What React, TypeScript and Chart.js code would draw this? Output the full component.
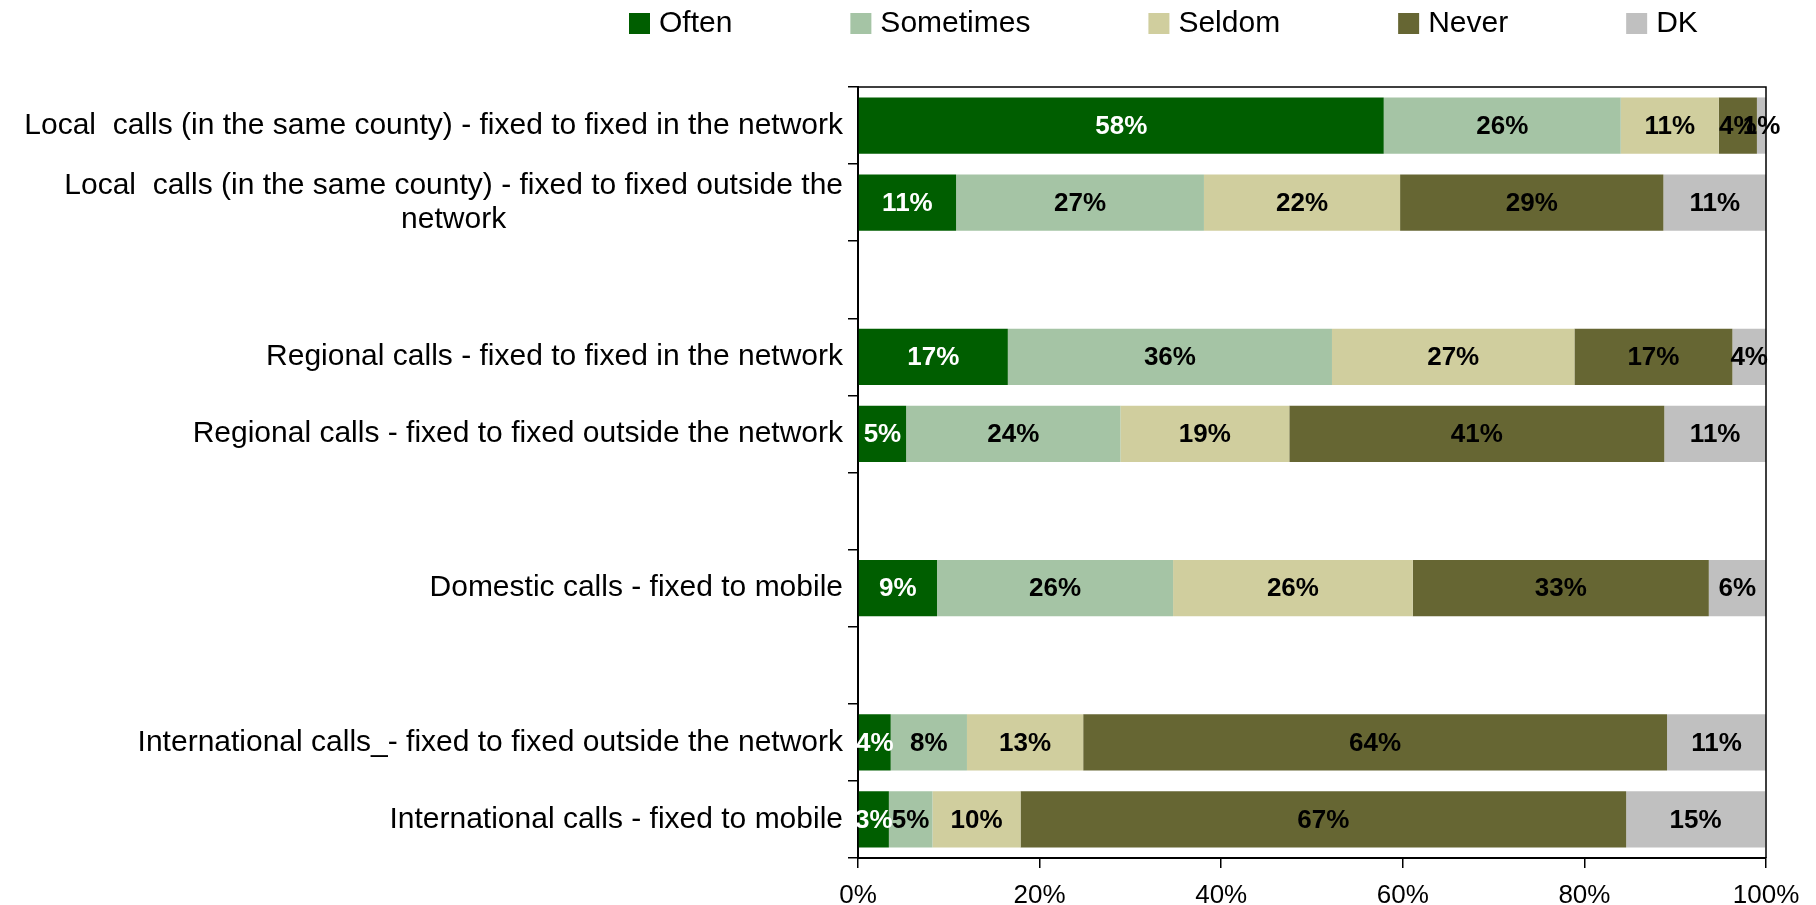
import React, { useEffect, useRef } from "react";
import { Chart, registerables } from "chart.js";

Chart.register(...registerables);

const categories: (string | string[])[] = [
  "Local  calls (in the same county) - fixed to fixed in the network",
  ["Local  calls (in the same county) - fixed to fixed outside the", "network"],
  "",
  "Regional calls - fixed to fixed in the network",
  "Regional calls - fixed to fixed outside the network",
  "",
  "Domestic calls - fixed to mobile",
  "",
  "International calls_- fixed to fixed outside the network",
  "International calls - fixed to mobile",
];

const seriesNames = ["Often", "Sometimes", "Seldom", "Never", "DK"];

const often = [57.9, 10.8, null, 16.5, 5.3, null, 8.7, null, 3.6, 3.4];
const sometimes = [26.1, 27.3, null, 35.7, 23.6, null, 26.0, null, 8.4, 4.8];
const seldom = [10.8, 21.6, null, 26.7, 18.6, null, 26.4, null, 12.8, 9.7];
const never = [4.2, 29.0, null, 17.4, 41.3, null, 32.6, null, 64.3, 66.7];
const dk = [1.0, 11.3, null, 3.7, 11.2, null, 6.3, null, 10.9, 15.3];

const seriesValues = [often, sometimes, seldom, never, dk];

const xTickValues = [0, 20, 40, 60, 80, 100];

const seriesColors = ["#005E00", "#A5C4A5", "#D0CE9E", "#666633", "#C0C0C0"];
const valueLabelColors = ["#FFFFFF", "#000000", "#000000", "#000000", "#000000"];

const FONT = "'Liberation Sans', Arial, Helvetica, sans-serif";

const overlayPlugin = {
  id: "overlay",
  afterDatasetsDraw(chart: any) {
    const ctx = chart.ctx;
    ctx.save();
    ctx.font = `bold 26px ${FONT}`;
    ctx.textAlign = "center";
    ctx.textBaseline = "middle";
    chart.data.datasets.forEach((ds: any, di: number) => {
      const meta = chart.getDatasetMeta(di);
      meta.data.forEach((el: any, i: number) => {
        const v = ds.data[i];
        if (v === null || v === undefined) return;
        const p = el.getProps(["x", "base", "y"], true);
        ctx.fillStyle = valueLabelColors[di];
        ctx.fillText(Math.round(v) + "%", (p.x + p.base) / 2, p.y + 1);
      });
    });
    ctx.restore();
  },
  afterDraw(chart: any) {
    const ctx = chart.ctx;
    const area = chart.chartArea;
    ctx.save();
    // frame around plot area
    ctx.strokeStyle = "#000000";
    ctx.lineWidth = 1.5;
    ctx.beginPath();
    ctx.moveTo(area.left, area.top);
    ctx.lineTo(area.right, area.top);
    ctx.lineTo(area.right, area.bottom);
    ctx.stroke();

    // category labels
    const yScale = chart.scales.y;
    ctx.font = `30px ${FONT}`;
    ctx.fillStyle = "#000000";
    ctx.textBaseline = "middle";
    const rightX = area.left - 15;
    const lh = 34.5;
    categories.forEach((lab, i) => {
      const lines = Array.isArray(lab) ? lab : [lab];
      if (!lines.length || (lines.length === 1 && !lines[0])) return;
      const yc = yScale.getPixelForValue(i);
      if (lines.length === 1) {
        ctx.textAlign = "right";
        ctx.fillText(lines[0], rightX, yc);
      } else {
        const widest = Math.max(...lines.map((l) => ctx.measureText(l).width));
        ctx.textAlign = "center";
        lines.forEach((l, k) => {
          ctx.fillText(l, rightX - widest / 2, yc - ((lines.length - 1) / 2) * lh + k * lh);
        });
      }
    });

    // legend
    ctx.font = `30px ${FONT}`;
    ctx.textAlign = "left";
    ctx.textBaseline = "middle";
    let x = 629;
    seriesNames.forEach((name, i) => {
      ctx.fillStyle = seriesColors[i];
      ctx.fillRect(x, 13, 21, 21);
      ctx.fillStyle = "#000000";
      ctx.fillText(name, x + 30, 24);
      x += 30 + ctx.measureText(name).width + 118;
    });
    ctx.restore();
  },
};

export default function App() {
  const ref = useRef<HTMLCanvasElement | null>(null);

  useEffect(() => {
    if (!ref.current) return;
    const chart = new Chart(ref.current, {
      type: "bar",
      data: {
        labels: categories.map((c) => (Array.isArray(c) ? c.join(" ") : c)),
        datasets: seriesNames.map((name, i) => ({
          label: name,
          data: seriesValues[i] as any,
          backgroundColor: seriesColors[i],
          borderWidth: 0,
          barPercentage: 0.73,
          categoryPercentage: 1,
        })),
      },
      options: {
        indexAxis: "y",
        animation: false,
        responsive: true,
        maintainAspectRatio: false,
        layout: { padding: { left: 0, right: 50, top: 87, bottom: 0 } },
        plugins: {
          legend: { display: false },
          tooltip: { enabled: false },
          title: { display: false },
        },
        scales: {
          x: {
            stacked: true,
            min: 0,
            max: 100,
            afterBuildTicks: (scale: any) => {
              scale.ticks = xTickValues.map((v) => ({ value: v }));
            },
            afterFit: (scale: any) => {
              scale.height = 47;
            },
            grid: {
              drawOnChartArea: false,
              drawTicks: true,
              tickLength: 10,
              color: "#000000",
              lineWidth: 1.5,
            },
            border: { display: true, color: "#000000", width: 2 },
            ticks: {
              color: "#000000",
              font: { family: FONT, size: 26 },
              padding: 12,
              maxRotation: 0,
              autoSkip: false,
              callback: (v: any) => v + "%",
            },
          },
          y: {
            stacked: true,
            afterFit: (scale: any) => {
              scale.width = 858;
            },
            grid: {
              drawOnChartArea: false,
              drawTicks: true,
              tickLength: 10,
              offset: true,
              color: "#000000",
              lineWidth: 1.5,
            },
            border: { display: true, color: "#000000", width: 2 },
            ticks: { display: false },
          },
        },
      },
      plugins: [overlayPlugin],
    });
    return () => chart.destroy();
  }, []);

  return (
    <div style={{ position: "absolute", left: 0, top: 0, width: 1816, height: 905, background: "#fff" }}>
      <canvas ref={ref} />
    </div>
  );
}
